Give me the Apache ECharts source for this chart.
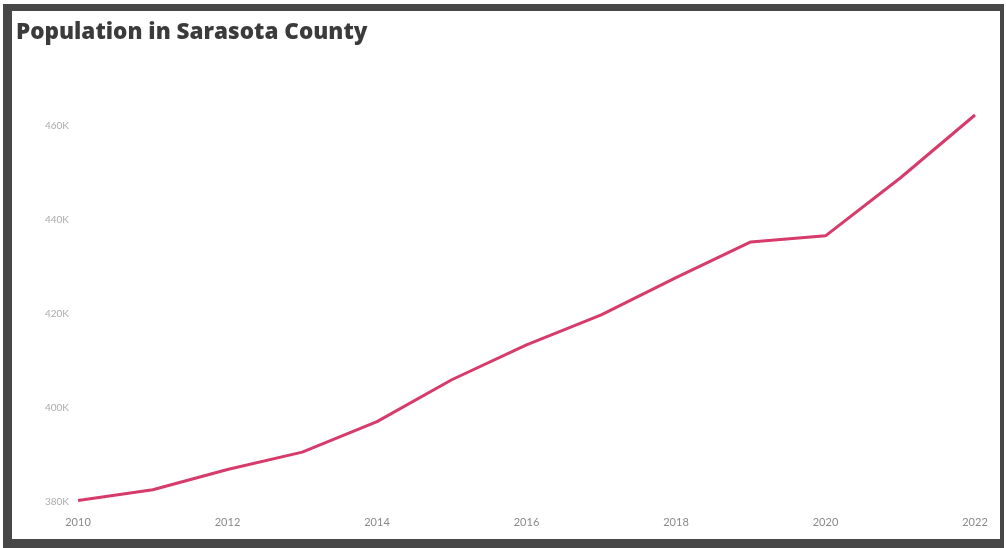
<!DOCTYPE html>
<html>
<head>
<meta charset="utf-8">
<script src="https://cdn.jsdelivr.net/npm/echarts@6/dist/echarts.min.js"></script>
<style>
html,body{margin:0;padding:0;background:#fff;width:1006px;height:548px;overflow:hidden;}
#frame{position:absolute;left:3px;top:4px;width:988px;height:528px;border-style:solid;border-color:#474747;border-width:7px 4px 9px 9px;background:#fff;}
#chart{position:absolute;left:0;top:0;width:1006px;height:548px;}
</style>
</head>
<body>
<div id="frame"></div>
<div id="chart"></div>
<script>
const years = ['2010','2011','2012','2013','2014','2015','2016','2017','2018','2019','2020','2021','2022'];
const population = [380300, 382600, 386900, 390600, 397100, 406000, 413400, 419800, 427700, 435300, 436600, 448900, 462300];
const yTicks = { min: 380000, max: 464000, interval: 20000 };
const titleText = 'Population in Sarasota County';

const chart = echarts.init(document.getElementById('chart'), null, {renderer: 'canvas'});
chart.setOption({
  backgroundColor: 'transparent',
  animation: false,
  title: {
    text: titleText,
    left: 11, top: 16,
    textStyle: { fontFamily: 'Open Sans', fontWeight: 800, fontSize: 22.5, color: '#3b3b3b' }
  },
  grid: { left: 78, right: 31, top: 107, bottom: 46, containLabel: false },
  xAxis: {
    type: 'category',
    data: years,
    boundaryGap: false,
    axisLine: { show: false },
    axisTick: { show: false },
    splitLine: { show: false },
    axisLabel: { interval: 1, margin: 15, color: '#8a8a8a', fontFamily: 'Lato', fontSize: 11 }
  },
  yAxis: {
    type: 'value',
    min: yTicks.min, max: yTicks.max, interval: yTicks.interval,
    axisLine: { show: false },
    axisTick: { show: false },
    splitLine: { show: false },
    axisLabel: {
      showMaxLabel: false,
      margin: 9, color: '#ababab', fontFamily: 'Lato', fontSize: 10,
      formatter: v => (v % 20000 === 0 ? (v / 1000) + 'K' : '')
    }
  },
  series: [{
    type: 'line',
    data: population,
    showSymbol: false,
    symbol: 'none',
    lineStyle: { color: '#d63b6b', width: 3 },
    itemStyle: { color: '#d63b6b' }
  }]
});
</script>
</body>
</html>
